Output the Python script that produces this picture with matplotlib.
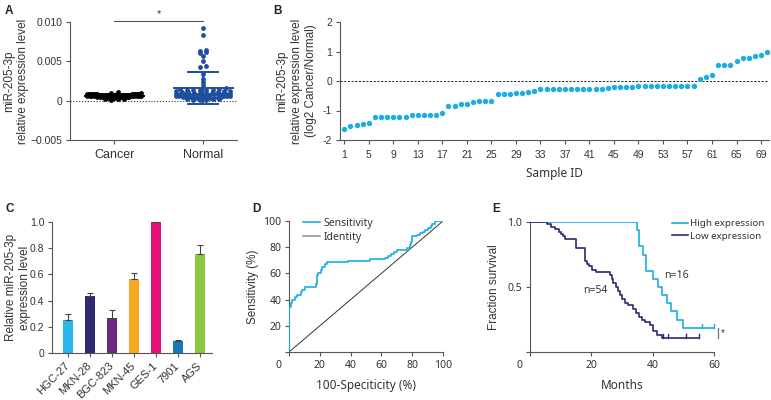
import numpy as np
import matplotlib
matplotlib.use('Agg')
import matplotlib.pyplot as plt
from matplotlib.lines import Line2D

plt.rcParams['font.family'] = ['Liberation Sans', 'DejaVu Sans']
plt.rcParams['axes.unicode_minus'] = False

# ---------------- data ----------------
# Panel A
a_groups = ['Cancer', 'Normal']
a_cancer = [0.00012, 0.00019, 0.00023, 0.00026, 0.00029, 0.00031, 0.00034, 0.00036, 0.00038, 0.00040,
            0.00042, 0.00043, 0.00045, 0.00047, 0.00048, 0.00050, 0.00052, 0.00053, 0.00055, 0.00056,
            0.00057, 0.00059, 0.00060, 0.00061, 0.00062, 0.00063, 0.00064, 0.00065, 0.00066, 0.00067,
            0.00068, 0.00068, 0.00069, 0.00070, 0.00071, 0.00071, 0.00072, 0.00073, 0.00073, 0.00074,
            0.00075, 0.00075, 0.00076, 0.00077, 0.00077, 0.00078, 0.00079, 0.00079, 0.00080, 0.00081,
            0.00082, 0.00082, 0.00083, 0.00084, 0.00085, 0.00086, 0.00087, 0.00088, 0.00089, 0.00090,
            0.00041, 0.00054, 0.00070, 0.00078, 0.00084, 0.00092, 0.00095, 0.00060, 0.00108, 0.00066]
a_normal = [0.0093, 0.0084, 0.0064, 0.0063, 0.0062, 0.0061, 0.0057, 0.0051, 0.0044, 0.0043,
            0.0034, 0.0028, 0.0024, 0.0020,
            0.0016, 0.0015, 0.0015, 0.0014, 0.0014, 0.0013, 0.0013, 0.0013, 0.0012, 0.0012,
            0.0012, 0.0011, 0.0011, 0.0011, 0.0010, 0.0010, 0.0010, 0.0010, 0.0009, 0.0009,
            0.0009, 0.0009, 0.0008, 0.0008, 0.0008, 0.0008, 0.0008, 0.0007, 0.0007, 0.0007,
            0.0007, 0.0007, 0.0006, 0.0006, 0.0006, 0.0006, 0.0006, 0.0005, 0.0005, 0.0005,
            0.0005, 0.0005, 0.0004, 0.0004, 0.0004, 0.0004, 0.0003, 0.0003, 0.0003, 0.0003,
            0.0002, 0.0002, 0.0002, 0.0001, 0.0001, 0.00005]

# Panel B
b_samples = list(range(1, 71))
b_values = [-1.63, -1.51, -1.50, -1.47, -1.42,
            -1.22, -1.22, -1.22, -1.22, -1.22, -1.22,
            -1.16, -1.16, -1.16, -1.15, -1.15, -1.07,
            -0.85, -0.85, -0.79, -0.77, -0.71, -0.68, -0.68, -0.67,
            -0.45, -0.45, -0.44, -0.42, -0.40, -0.37, -0.35,
            -0.28, -0.28, -0.28, -0.28, -0.28, -0.28, -0.28, -0.28, -0.28, -0.28, -0.28,
            -0.23, -0.21, -0.21, -0.21, -0.21,
            -0.16, -0.16, -0.16, -0.16, -0.16, -0.16, -0.16, -0.16, -0.16, -0.16,
            0.06, 0.15, 0.19, 0.55, 0.55, 0.55, 0.67, 0.79, 0.79, 0.86, 0.88, 0.99]
b_xticks = list(range(1, 70, 4))

# Panel C
c_cells = ['HGC-27', 'MKN-28', 'BGC-823', 'MKN-45', 'GES-1', '7901', 'AGS']
c_means = [0.25, 0.437, 0.27, 0.563, 1.0, 0.095, 0.757]
c_errs = [0.047, 0.023, 0.057, 0.051, 0.0, 0.005, 0.067]
c_colors = ['#29b6e8', '#2e2b72', '#6c2a7e', '#f7a823', '#e2127a', '#1b76bc', '#8cc63f']

# Panel D (ROC, step vertices: 100-specificity %, sensitivity %)
d_fpr = [0, 0, 1.3, 2.2, 3.9, 5.5, 7.5, 8.5, 10.5, 17.5, 18.0, 19.0, 20.5, 21.5, 23.5, 24.5,
         38.5, 52.5, 62.5, 64.0, 66.0, 68.0, 70.0, 76.5, 78.5, 79.5, 80.0, 83.0, 85.0, 87.0,
         88.5, 90.0, 92.0, 93.0, 95.0, 100.0]
d_tpr = [0, 34, 37.5, 40, 42, 43.5, 46, 47.5, 49.5, 52, 59, 60.5, 62.5, 65, 67, 68.5,
         69.5, 71, 72, 73.5, 75, 76.5, 78, 79.5, 82, 84, 88.5, 89, 90.5, 91.5,
         93, 94.5, 96, 98, 100, 100]

# Panel E (Kaplan-Meier)
e_high_t = [0, 35.0, 35.7, 36.7, 37.8, 40.0, 41.8, 43.0, 44.8, 46.0, 47.8, 49.8, 60]
e_high_s = [1.0, 0.9375, 0.8125, 0.75, 0.625, 0.5625, 0.5, 0.4375, 0.375, 0.3125, 0.25, 0.1875, 0.1875]
e_high_cens = [56, 60]
e_low_t = [0, 5.6, 7.0, 8.0, 9.5, 10.2, 10.8, 11.5, 15.0, 17.8, 18.5, 19.3, 20.3, 21.5,
           26.0, 26.6, 27.2, 27.9, 28.6, 29.3, 30.0, 31.0, 32.0, 33.5, 34.5, 35.5, 36.5,
           37.5, 39.0, 40.0, 41.5, 43.0, 55.0]
e_low_s = [1.0, 0.981, 0.963, 0.944, 0.926, 0.907, 0.889, 0.870, 0.80, 0.70, 0.68, 0.66, 0.63, 0.615,
           0.59, 0.56, 0.53, 0.50, 0.47, 0.44, 0.41, 0.38, 0.36, 0.33, 0.30, 0.27, 0.25,
           0.23, 0.21, 0.16, 0.13, 0.105, 0.105]
e_low_cens = [43.5, 45, 51, 55]

# ---------------- style ----------------
TXT = '#333333'
SP = '#555555'
LB = '#1aaee5'
NAVY = '#2e2a6e'
NOTO = ['Noto Sans', 'DejaVu Sans']

fig = plt.figure(figsize=(7.71, 4.0), dpi=100)
W, H = 771.0, 400.0


def axes_px(l, t, r, b):
    return fig.add_axes([l / W, 1 - b / H, (r - l) / W, (b - t) / H])


def style(ax, fs=7.5, family=None):
    for s in ['top', 'right']:
        ax.spines[s].set_visible(False)
    for s in ['left', 'bottom']:
        ax.spines[s].set_color(SP)
        ax.spines[s].set_linewidth(0.8)
    ax.tick_params(direction='out', length=3, width=0.8, color=SP,
                   labelcolor=TXT, labelsize=fs, pad=2.5)
    if family:
        for lbl in ax.get_xticklabels() + ax.get_yticklabels():
            lbl.set_family(family)


def ylabel_px(ax, text, right_px, l_px, r_px, fs=8.5):
    ax.set_ylabel(text, fontsize=fs, color=TXT, linespacing=1.25)
    ax.yaxis.set_label_coords((right_px - l_px) / (r_px - l_px), 0.5)


def xlabel_px(ax, text, top_px, t_px, b_px, fs=8.5, family=None):
    ax.set_xlabel(text, fontsize=fs, color=TXT, family=family)
    ax.xaxis.set_label_coords(0.5, (b_px - top_px) / (b_px - t_px))


def scatter_offsets(ax, x0, vals, bin_px, max_hw_px, max_sp_px):
    """GraphPad-like column scatter: points binned by height, spread in rows."""
    tr = ax.transData
    ys = np.array([tr.transform((x0, v))[1] for v in vals])
    bins = np.floor(ys / bin_px).astype(int)
    off = np.zeros(len(vals))
    for b in np.unique(bins):
        idx = np.where(bins == b)[0]
        idx = idx[np.argsort(ys[idx])]
        n = len(idx)
        if n == 1:
            continue
        sp = min(max_sp_px, 2 * max_hw_px / (n - 1))
        pos = (np.arange(n) - (n - 1) / 2.0) * sp
        pos = pos[np.argsort(np.abs(pos), kind='stable')]
        off[idx] = pos
    ppu = tr.transform((1, 0))[0] - tr.transform((0, 0))[0]
    return x0 + off / ppu


# ---------------- Panel A ----------------
axA = axes_px(70, 22, 237, 140)
axA.set_xlim(-0.5, 1.38)
axA.set_ylim(-0.005, 0.010)
style(axA)
axA.set_yticks([-0.005, 0, 0.005, 0.010])
axA.set_yticklabels(['\u22120.005', '0', '0.005', '0.010'])
axA.set_xticks([0, 1])
axA.set_xticklabels(a_groups, fontsize=9)
axA.tick_params(axis='x', pad=3.5)
axA.axhline(0, color='#333333', lw=0.8, ls=(0, (1, 1.6)), zorder=1)
for i, (vals, col) in enumerate([(a_cancer, 'black'), (a_normal, '#1f4e9e')]):
    xs = scatter_offsets(axA, i, vals, 2.6, 27.0, 6.5)
    axA.scatter(xs, vals, s=12, color=col, linewidths=0, zorder=3)
    m = np.mean(vals)
    sd = np.std(vals, ddof=1)
    hw = 0.33
    cw = 0.17 if i == 1 else 0.07
    axA.plot([i - hw, i + hw], [m, m], color=col, lw=1.4, zorder=4)
    axA.plot([i, i], [m - sd, m + sd], color=col, lw=1.4, zorder=4)
    axA.plot([i - cw, i + cw], [m + sd, m + sd], color=col, lw=1.4, zorder=4)
    axA.plot([i - cw, i + cw], [m - sd, m - sd], color=col, lw=1.4, zorder=4)
axA.plot([0, 1], [0.0101, 0.0101], color='#555555', lw=0.8, clip_on=False)
axA.text(0.5, 0.0104, '*', ha='center', va='bottom', fontsize=8, color=TXT)
ylabel_px(axA, 'miR-205-3p\nrelative expression level', 29, 70, 237)

# ---------------- Panel B ----------------
axB = axes_px(340, 22, 769, 140)
axB.set_xlim(0.3, 70.3)
axB.set_ylim(-2, 2)
style(axB)
axB.set_yticks([-2, -1, 0, 1, 2])
axB.set_xticks(b_xticks)
axB.tick_params(axis='x', pad=4)
axB.axhline(0, color='#222222', lw=0.7, ls=(0, (2.2, 1.6)), zorder=1)
axB.scatter(b_samples, b_values, s=15, color=LB, linewidths=0, zorder=3, clip_on=False)
ylabel_px(axB, 'miR-205-3p\nrelative expression level\n(log2 Cancer/Normal)', 317, 340, 769)
xlabel_px(axB, 'Sample ID', 167, 22, 140, family=NOTO)

# ---------------- Panel C ----------------
axC = axes_px(52, 222, 212, 353)
xc = np.arange(len(c_cells))
axC.set_xlim(-0.727, 6.545)
axC.set_ylim(0, 1.0)
style(axC)
axC.bar(xc, c_means, width=0.41, color=c_colors, zorder=2)
axC.errorbar(xc, c_means, yerr=[np.zeros(len(c_errs)), c_errs], fmt='none',
             ecolor='#444444', elinewidth=0.8, capsize=2.2, capthick=0.8, zorder=3)
axC.set_yticks([0, 0.2, 0.4, 0.6, 0.8, 1.0])
axC.set_yticklabels(['0', '0.2', '0.4', '0.6', '0.8', '1.0'])
axC.set_xticks(xc)
axC.set_xticklabels(c_cells, rotation=45, ha='right', va='center',
                    rotation_mode='anchor', fontsize=8)
axC.tick_params(axis='x', pad=5)
ylabel_px(axC, 'Relative miR-205-3p\nexpression level', 31, 52, 212)

# ---------------- Panel D ----------------
axD = axes_px(289, 221, 443, 352)
axD.set_xlim(0, 100)
axD.set_ylim(0, 100)
axD.plot([0, 100], [0, 100], color='#333333', lw=0.7, zorder=2)
axD.step(d_fpr, d_tpr, where='post', color=LB, lw=1.2, zorder=3)
axD.set_xticks([0, 20, 40, 60, 80, 100])
axD.set_xticklabels(['', '20', '40', '60', '80', '100'])
axD.set_yticks([0, 20, 40, 60, 80, 100])
axD.set_yticklabels(['', '20', '40', '60', '80', '100'])
style(axD, fs=7.5, family=NOTO)
axD.annotate('0', xy=(0, 0), xycoords='axes fraction', xytext=(-7.5, -5.5),
             textcoords='offset points', ha='center', va='top', fontsize=7.5,
             color=TXT, family=NOTO)
ylabel_px(axD, 'Sensitivity (%)', 259, 289, 443)
xlabel_px(axD, '100-Speciticity (%)', 379, 221, 352, family=NOTO)
hD = [Line2D([], [], color=LB, lw=1.2), Line2D([], [], color='#9a9a9a', lw=1.2)]
legD = axD.legend(hD, ['Sensitivity', 'Identity'], loc='upper left',
                  bbox_to_anchor=(303 / W, 1 - 218 / H), bbox_transform=fig.transFigure,
                  frameon=False, borderpad=0, borderaxespad=0, handlelength=1.65,
                  handletextpad=0.35, labelspacing=0.25,
                  prop={'family': NOTO, 'size': 7.5})
for t in legD.get_texts():
    t.set_color(TXT)

# ---------------- Panel E ----------------
axE = axes_px(530, 222, 714, 352)
axE.set_xlim(0, 60)
axE.set_ylim(0, 1.0)
axE.step(e_high_t, e_high_s, where='post', color=LB, lw=1.2, zorder=3)
axE.step(e_low_t, e_low_s, where='post', color=NAVY, lw=1.2, zorder=3)
for c in e_high_cens:
    axE.plot([c, c], [0.1875, 0.1875 + 0.03], color=LB, lw=1.0, clip_on=False)
for c in e_low_cens:
    axE.plot([c, c], [0.105, 0.105 + 0.03], color=NAVY, lw=1.0, clip_on=False)
axE.plot([61.4, 61.4], [0.108, 0.185], color='#777777', lw=0.9, clip_on=False)
axE.text(62.3, 0.145, '*', ha='left', va='center', fontsize=7, color=TXT, clip_on=False)
axE.text(43.7, 0.585, 'n=16', ha='left', va='center', fontsize=7.5, color=TXT, family=NOTO)
axE.text(17.2, 0.47, 'n=54', ha='left', va='center', fontsize=7.5, color=TXT, family=NOTO)
axE.set_xticks([0, 20, 40, 60])
axE.set_xticklabels(['', '20', '40', '60'])
axE.set_yticks([0, 0.5, 1.0])
axE.set_yticklabels(['', '0.5', '1.0'])
style(axE, fs=7.5, family=NOTO)
axE.annotate('0', xy=(0, 0), xycoords='axes fraction', xytext=(-7.5, -5.5),
             textcoords='offset points', ha='center', va='top', fontsize=7.5,
             color=TXT, family=NOTO)
ylabel_px(axE, 'Fraction survival', 500, 530, 714)
xlabel_px(axE, 'Months', 379, 222, 352, family=NOTO)
hE = [Line2D([], [], color=LB, lw=1.2), Line2D([], [], color=NAVY, lw=1.2)]
legE = axE.legend(hE, ['High expression', 'Low expression'], loc='upper left',
                  bbox_to_anchor=(672 / W, 1 - 219 / H), bbox_transform=fig.transFigure,
                  frameon=False, borderpad=0, borderaxespad=0, handlelength=1.6,
                  handletextpad=0.3, labelspacing=0.4,
                  prop={'family': NOTO, 'size': 7})
for t in legE.get_texts():
    t.set_color(TXT)

# ---------------- panel letters ----------------
for lab, x, y in [('A', 5, 5), ('B', 273, 5), ('C', 5, 203), ('D', 252, 203), ('E', 492, 203)]:
    fig.text(x / W, 1 - y / H, lab, fontsize=8.5, fontweight='bold', color='#222222',
             ha='left', va='top')

fig.savefig('out.png', dpi=100)
